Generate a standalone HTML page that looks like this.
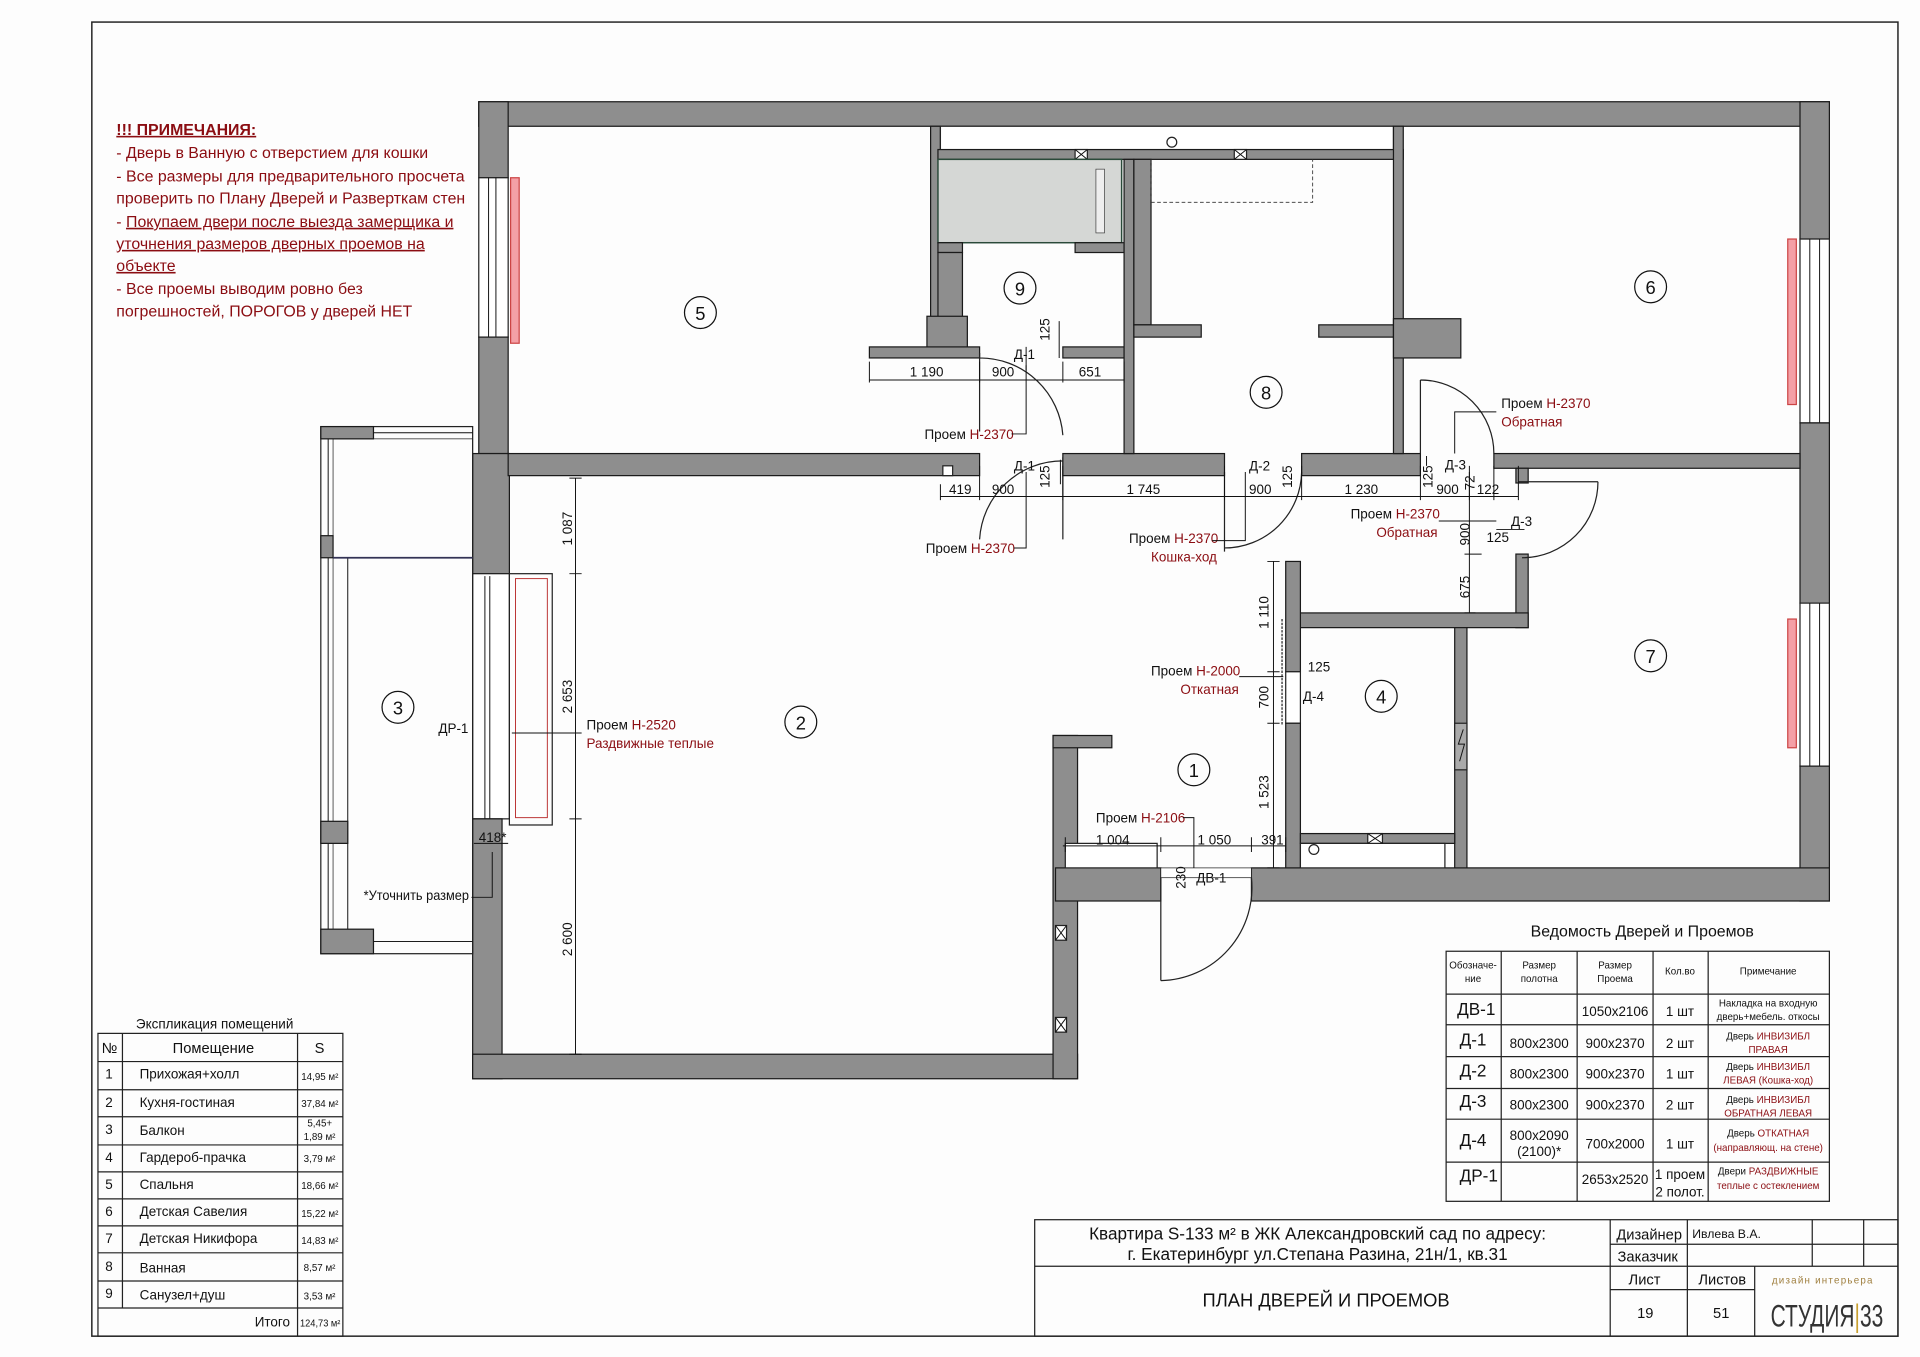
<!DOCTYPE html>
<html><head><meta charset="utf-8"><style>
html,body{margin:0;padding:0;background:#fdfdfd;}
svg{display:block}
text{font-family:"Liberation Sans",sans-serif;fill:#111}
.r{fill:#8b0d12}
.w{fill:#8e8e8e;stroke:#1a1a1a;stroke-width:1}
.ln{stroke:#111;stroke-width:0.8;fill:none}
.t{stroke:#222;stroke-width:1;fill:none}
</style></head><body>
<svg width="1920" height="1357" viewBox="0 0 1568 1107" preserveAspectRatio="none" xmlns="http://www.w3.org/2000/svg">
<rect x="0" y="0" width="1568" height="1107" fill="#fdfdfd"/>
<rect x="75" y="18" width="1475" height="1072" fill="none" stroke="#222" stroke-width="1.2"/>

<g font-size="13" class="r">
<text x="95" y="110" class="r" font-weight="bold" text-decoration="underline">!!! ПРИМЕЧАНИЯ:</text>
<text x="95" y="129" class="r">- Дверь в Ванную с отверстием для кошки</text>
<text x="95" y="148" class="r">- Все размеры для предварительного просчета</text>
<text x="95" y="166" class="r">проверить по Плану Дверей и Разверткам стен</text>
<text x="95" y="185" class="r">- <tspan text-decoration="underline">Покупаем двери после выезда замерщика и</tspan></text>
<text x="95" y="203" class="r" text-decoration="underline">уточнения размеров дверных проемов на</text>
<text x="95" y="221" class="r" text-decoration="underline">объекте</text>
<text x="95" y="240" class="r">- Все проемы выводим ровно без</text>
<text x="95" y="258" class="r">погрешностей,   ПОРОГОВ у дверей НЕТ</text>
</g>

<rect class="w" x="391" y="83" width="1103" height="20"/>
<rect class="w" x="1470" y="83" width="24" height="112"/>
<rect x="1470" y="195" width="24" height="150" fill="#fff" stroke="#222"/>
<line class="ln" x1="1478" y1="195" x2="1478" y2="345"/><line class="ln" x1="1486" y1="195" x2="1486" y2="345"/>
<rect x="1460" y="195" width="7" height="135" fill="#f4a0a6" stroke="#c44"/>
<rect class="w" x="1470" y="345" width="24" height="147"/>
<rect x="1470" y="492" width="24" height="133" fill="#fff" stroke="#222"/>
<line class="ln" x1="1478" y1="492" x2="1478" y2="625"/><line class="ln" x1="1486" y1="492" x2="1486" y2="625"/>
<rect x="1460" y="505" width="7" height="105" fill="#f4a0a6" stroke="#c44"/>
<rect class="w" x="1470" y="625" width="24" height="110"/>
<rect class="w" x="1022" y="708" width="472" height="27"/>

<rect class="w" x="391" y="83" width="24" height="62"/>
<rect x="391" y="145" width="24" height="130" fill="#fff" stroke="#222"/>
<line class="ln" x1="399" y1="145" x2="399" y2="275"/><line class="ln" x1="405" y1="145" x2="405" y2="275"/>
<rect x="417" y="145" width="7" height="135" fill="#f4a0a6" stroke="#c44"/>
<rect class="w" x="391" y="275" width="24" height="95"/>

<rect class="w" x="386" y="370" width="30" height="98"/>
<rect x="386" y="468" width="30" height="200" fill="#fff" stroke="#222"/>
<line class="ln" x1="396" y1="470" x2="396" y2="668"/><line class="ln" x1="400" y1="470" x2="400" y2="668"/>
<rect x="416" y="468" width="35" height="205" fill="none" stroke="#222"/>
<rect x="421" y="472" width="26" height="195" fill="none" stroke="#b33" stroke-width="0.8"/>
<rect class="w" x="386" y="668" width="24" height="212"/>
<rect class="w" x="386" y="860" width="494" height="20"/>
<rect class="w" x="860" y="600" width="20" height="280"/>
<rect class="w" x="860" y="600" width="48" height="10"/>
<rect class="w" x="862" y="708" width="86" height="27"/>
<rect x="870" y="688" width="75" height="20" fill="#fff" stroke="#222"/>
<rect x="948" y="708" width="74" height="8" fill="#fff" stroke="#222" stroke-width="0.6"/>

<rect class="w" x="415" y="370" width="385" height="18"/>
<rect class="w" x="868" y="370" width="132" height="18"/>
<rect class="w" x="1063" y="370" width="97" height="18"/>
<rect class="w" x="1220" y="370" width="250" height="12"/>
<rect x="770" y="380" width="8" height="8" fill="#fff" stroke="#222"/>

<rect class="w" x="760" y="103" width="8" height="160"/>
<rect x="768" y="103" width="370" height="20" fill="#fff" stroke="#222"/>
<rect class="w" x="766" y="122" width="380" height="8"/>
<circle cx="957" cy="116" r="4" fill="#fff" stroke="#222"/>
<rect x="878" y="122" width="10" height="8" fill="#fff" stroke="#222"/><path d="M878 122l10 8M888 122l-10 8" class="ln"/>
<rect x="1008" y="122" width="10" height="8" fill="#fff" stroke="#222"/><path d="M1008 122l10 8M1018 122l-10 8" class="ln"/>
<rect x="766" y="130" width="150" height="68" fill="#d5d7d5" stroke="#2a4a3a" stroke-width="1.2"/>
<rect x="895" y="138" width="7" height="52" fill="#eee" stroke="#444" stroke-width="0.6"/>
<rect class="w" x="766" y="198" width="20" height="8"/><rect class="w" x="878" y="198" width="40" height="8"/>
<rect class="w" x="766" y="206" width="20" height="55"/>
<rect class="w" x="757" y="258" width="33" height="32"/>
<rect class="w" x="710" y="283" width="90" height="9"/>
<rect class="w" x="868" y="283" width="50" height="9"/>
<rect class="w" x="918" y="130" width="8" height="240"/>
<rect class="w" x="926" y="130" width="14" height="135"/>
<path d="M940 130V165h132V130" fill="none" stroke="#333" stroke-width="0.7" stroke-dasharray="3 2"/>
<rect class="w" x="926" y="265" width="55" height="10"/>
<rect class="w" x="1077" y="265" width="62" height="10"/>
<rect class="w" x="1138" y="103" width="8" height="267"/>
<rect class="w" x="1138" y="260" width="55" height="32"/>

<rect class="w" x="1238" y="382" width="10" height="12"/>
<rect class="w" x="1238" y="452" width="10" height="60"/>
<rect class="w" x="1060" y="500" width="188" height="12"/>
<rect class="w" x="1188" y="512" width="10" height="196"/>
<rect x="1188" y="590" width="10" height="38" fill="#aaa" stroke="#222"/>
<path d="M1195 595l-4 12h5l-4 14" class="ln"/>
<rect class="w" x="1050" y="458" width="12" height="90"/>
<rect x="1050" y="548" width="12" height="42" fill="#fff" stroke="#222"/>
<line x1="1047" y1="505" x2="1047" y2="592" stroke="#222" stroke-dasharray="2 1"/>
<rect class="w" x="1050" y="590" width="12" height="118"/>
<rect class="w" x="1062" y="680" width="126" height="8"/>
<rect x="1062" y="688" width="118" height="20" fill="#fff" stroke="#222"/>
<circle cx="1073" cy="693" r="4" fill="#fff" stroke="#222"/>
<rect x="1117" y="680" width="12" height="8" fill="#fff" stroke="#222"/><path d="M1117 680l12 8M1129 680l-12 8" class="ln"/>
<rect x="862" y="755" width="9" height="12" fill="#fff" stroke="#222"/><path d="M862 755l9 12M871 755l-9 12" class="ln"/>
<rect x="862" y="830" width="9" height="12" fill="#fff" stroke="#222"/><path d="M862 830l9 12M871 830l-9 12" class="ln"/>

<rect x="262" y="348" width="124" height="430" fill="none" stroke="#222"/>
<rect x="272" y="358" width="114" height="410" fill="none" stroke="#222" stroke-width="0.6"/>
<line class="ln" x1="268" y1="358" x2="268" y2="768"/>
<line class="ln" x1="284" y1="455" x2="284" y2="758"/>
<rect class="w" x="262" y="348" width="43" height="10"/>
<line class="ln" x1="305" y1="353" x2="386" y2="353"/>
<rect class="w" x="262" y="437" width="10" height="18"/>
<line x1="272" y1="455" x2="386" y2="455" stroke="#335" stroke-width="1.5"/>
<rect class="w" x="262" y="670" width="22" height="18"/>
<rect class="w" x="262" y="758" width="43" height="20"/>
<line class="ln" x1="305" y1="768" x2="386" y2="768"/>

<g class="t">
<path d="M800 288V352M800 292A68 68 0 0 1 868 355"/>
<path d="M868 373V440M868 376A68 68 0 0 0 800 440"/>
<path d="M1000 385V450M1000 447A63 63 0 0 0 1063 385"/>
<path d="M1160 310V370M1160 310A60 60 0 0 1 1220 370"/>
<path d="M1240 393H1305M1305 393A62 62 0 0 1 1243 455"/>
<path d="M948 716V800M948 800A76 76 0 0 0 1022 716"/>
</g>

<g font-size="15" text-anchor="middle">
<circle cx="572" cy="255" r="13" fill="none" stroke="#111"/><text x="572" y="261">5</text>
<circle cx="833" cy="235" r="13" fill="none" stroke="#111"/><text x="833" y="241">9</text>
<circle cx="1034" cy="320" r="13" fill="none" stroke="#111"/><text x="1034" y="326">8</text>
<circle cx="1348" cy="234" r="13" fill="none" stroke="#111"/><text x="1348" y="240">6</text>
<circle cx="654" cy="589" r="13" fill="none" stroke="#111"/><text x="654" y="595">2</text>
<circle cx="325" cy="577" r="13" fill="none" stroke="#111"/><text x="325" y="583">3</text>
<circle cx="1348" cy="535" r="13" fill="none" stroke="#111"/><text x="1348" y="541">7</text>
<circle cx="1128" cy="568" r="13" fill="none" stroke="#111"/><text x="1128" y="574">4</text>
<circle cx="975" cy="628" r="13" fill="none" stroke="#111"/><text x="975" y="634">1</text>
</g>

<g class="ln">
<path d="M710 310H918M800 295V312M868 295V312M918 295V312M710 295V312"/>
<path d="M768 405H1240M768 395V408M800 380V408M868 380V408M1000 380V408M1063 380V408M1160 380V408M1200 380V408M1220 380V408M1240 380V408"/>
<path d="M1200 385V500M1196 452H1210M1196 500H1205"/>
<path d="M470 390V860M465 390H475M465 468H475M465 668H475M465 860H475"/>
<path d="M1040 458V708M1035 458H1045M1035 548H1045M1035 590H1045M1035 708H1045"/>
<path d="M868 690H1050M870 683V695M948 683V695M1022 683V695M1050 683V695"/>
<path d="M838 302V283M865 262V292M866 375V395"/>
<path d="M1165 380V372M1222 432H1245"/>
<path d="M387 688H415"/>
</g>
<g font-size="11">
<text x="743" y="307">1 190</text><text x="810" y="307">900</text><text x="881" y="307">651</text>
<text x="775" y="403">419</text><text x="810" y="403">900</text><text x="920" y="403">1 745</text>
<text x="1020" y="403">900</text><text x="1098" y="403">1 230</text><text x="1173" y="403">900</text><text x="1206" y="403">122</text>
<text x="895" y="689">1 004</text><text x="978" y="689">1 050</text><text x="1030" y="689">391</text>
<text x="391" y="687">418*</text>
<text x="1068" y="548">125</text><text x="1214" y="442">125</text>
<text x="297" y="734" textLength="86" lengthAdjust="spacingAndGlyphs">*Уточнить размер</text>
<text x="358" y="598">ДР-1</text>
<text x="828" y="293">Д-1</text><text x="828" y="384">Д-1</text><text x="1020" y="384">Д-2</text>
<text x="1180" y="383">Д-3</text><text x="1234" y="429">Д-3</text><text x="1064" y="572">Д-4</text><text x="977" y="720">ДВ-1</text>
<g transform="rotate(-90)">
<text x="-278" y="857">125</text><text x="-398" y="857">125</text><text x="-398" y="1055">125</text>
<text x="-398" y="1170">125</text><text x="-400" y="1204">72</text><text x="-445" y="1200">900</text><text x="-488" y="1200">675</text>
<text x="-445" y="467">1 087</text><text x="-582" y="467">2 653</text><text x="-780" y="467">2 600</text>
<text x="-513" y="1036">1 110</text><text x="-578" y="1036">700</text><text x="-660" y="1036">1 523</text>
<text x="-725" y="968">230</text>
</g>
</g>
<g font-size="11">
<text x="755" y="358">Проем <tspan class="r">Н-2370</tspan></text>
<text x="756" y="451">Проем <tspan class="r">Н-2370</tspan></text>
<text x="922" y="443">Проем <tspan class="r">Н-2370</tspan></text><text x="940" y="458" class="r">Кошка-ход</text>
<text x="1226" y="333">Проем <tspan class="r">Н-2370</tspan></text><text x="1226" y="348" class="r">Обратная</text>
<text x="1103" y="423">Проем <tspan class="r">Н-2370</tspan></text><text x="1124" y="438" class="r">Обратная</text>
<text x="940" y="551">Проем <tspan class="r">Н-2000</tspan></text><text x="964" y="566" class="r">Откатная</text>
<text x="895" y="671">Проем <tspan class="r">Н-2106</tspan></text>
<text x="479" y="595">Проем <tspan class="r">Н-2520</tspan></text><text x="479" y="610" class="r">Раздвижные теплые</text>
</g>
<g class="ln">
<path d="M826 354H838V298"/><path d="M828 447H838V385"/><path d="M990 441H1017V385"/>
<path d="M1222 336H1188V370"/><path d="M1175 425H1222"/><path d="M1012 552H1048"/>
<path d="M966 667H975V708"/><path d="M475 598H418"/><path d="M385 732H402V695"/>
</g>

<text x="111" y="839" font-size="11">Экспликация помещений</text>
<g class="t">
<rect x="80" y="843" width="200" height="247"/>
<path d="M100 843V1067M243 843V1090"/>
<path d="M80 866H280M80 889H280M80 911H280M80 934H280M80 956H280M80 978H280M80 1000H280M80 1022H280M80 1045H280M80 1067H280"/>
</g>
<g font-size="12">
<text x="83" y="859">№</text><text x="141" y="859">Помещение</text><text x="257" y="859">S</text>
<g font-size="11">
<text x="86" y="880">1</text><text x="114" y="880">Прихожая+холл</text>
<text x="86" y="903">2</text><text x="114" y="903">Кухня-гостиная</text>
<text x="86" y="925">3</text><text x="114" y="926">Балкон</text>
<text x="86" y="948">4</text><text x="114" y="948">Гардероб-прачка</text>
<text x="86" y="970">5</text><text x="114" y="970">Спальня</text>
<text x="86" y="992">6</text><text x="114" y="992">Детская Савелия</text>
<text x="86" y="1014">7</text><text x="114" y="1014">Детская Никифора</text>
<text x="86" y="1037">8</text><text x="114" y="1038">Ванная</text>
<text x="86" y="1059">9</text><text x="114" y="1060">Санузел+душ</text>
<text x="208" y="1082">Итого</text>
</g>
<g font-size="8">
<text x="246" y="881">14,95 м²</text><text x="246" y="903">37,84 м²</text><text x="251" y="919">5,45+</text><text x="248" y="930">1,89 м²</text>
<text x="248" y="948">3,79 м²</text><text x="246" y="970">18,66 м²</text><text x="246" y="993">15,22 м²</text><text x="246" y="1015">14,83 м²</text>
<text x="248" y="1037">8,57 м²</text><text x="248" y="1060">3,53 м²</text><text x="245" y="1082" textLength="33" lengthAdjust="spacingAndGlyphs">124,73 м²</text>
</g>
</g>

<text x="1250" y="764" font-size="13">Ведомость Дверей и Проемов</text>
<g class="t">
<rect x="1181" y="776" width="313" height="204"/>
<path d="M1226 776V980M1288 776V980M1350 776V980M1395 776V980"/>
<path d="M1181 811H1494M1181 836H1494M1181 862H1494M1181 888H1494M1181 913H1494M1181 948H1494"/>
</g>
<g font-size="8" text-anchor="middle">
<text x="1203" y="790">Обозначе-</text><text x="1203" y="801">ние</text>
<text x="1257" y="790">Размер</text><text x="1257" y="801">полотна</text>
<text x="1319" y="790">Размер</text><text x="1319" y="801">Проема</text>
<text x="1372" y="795">Кол.во</text><text x="1444" y="795">Примечание</text>
<text x="1444" y="821">Накладка на входную</text><text x="1444" y="832">дверь+мебель. откосы</text>
<text x="1444" y="848">Дверь <tspan class="r">ИНВИЗИБЛ</tspan></text><text x="1444" y="859" class="r">ПРАВАЯ</text>
<text x="1444" y="873">Дверь <tspan class="r">ИНВИЗИБЛ</tspan></text><text x="1444" y="884" class="r">ЛЕВАЯ (Кошка-ход)</text>
<text x="1444" y="900">Дверь <tspan class="r">ИНВИЗИБЛ</tspan></text><text x="1444" y="911" class="r">ОБРАТНАЯ ЛЕВАЯ</text>
<text x="1444" y="927">Дверь <tspan class="r">ОТКАТНАЯ</tspan></text><text x="1444" y="939" class="r">(направляющ. на стене)</text>
<text x="1444" y="958">Двери <tspan class="r">РАЗДВИЖНЫЕ</tspan></text><text x="1444" y="970" class="r">теплые с остеклением</text>
</g>
<g font-size="11" text-anchor="middle">
<text x="1257" y="880">800x2300</text><text x="1257" y="905">800x2300</text><text x="1257" y="855">800x2300</text>
<text x="1257" y="930">800x2090</text><text x="1257" y="943">(2100)*</text>
<text x="1319" y="829">1050x2106</text><text x="1319" y="855">900x2370</text><text x="1319" y="880">900x2370</text><text x="1319" y="905">900x2370</text><text x="1319" y="937">700x2000</text><text x="1319" y="966">2653x2520</text>
<text x="1372" y="829">1 шт</text><text x="1372" y="855">2 шт</text><text x="1372" y="880">1 шт</text><text x="1372" y="905">2 шт</text><text x="1372" y="937">1 шт</text>
<text x="1372" y="962">1 проем</text><text x="1372" y="976">2 полот.</text>
</g>
<g font-size="14">
<text x="1190" y="828">ДВ-1</text><text x="1192" y="853">Д-1</text><text x="1192" y="878">Д-2</text><text x="1192" y="903">Д-3</text><text x="1192" y="935">Д-4</text><text x="1192" y="964">ДР-1</text>
</g>

<g class="t">
<rect x="845" y="995" width="705" height="95"/>
<path d="M845 1033H1315M1315 995V1090M1378 995V1090M1433 1033V1090M1480 995V1033M1522 995V1033"/>
<path d="M1315 1015H1550M1315 1033H1550M1315 1052H1433"/>
</g>
<g font-size="14" text-anchor="middle">
<text x="1076" y="1011">Квартира S-133 м² в ЖК Александровский сад по адресу:</text>
<text x="1076" y="1028">г. Екатеринбург ул.Степана Разина, 21н/1, кв.31</text>
<text x="1083" y="1066" font-size="15">ПЛАН ДВЕРЕЙ И ПРОЕМОВ</text>
</g>
<g font-size="12">
<text x="1320" y="1011">Дизайнер</text><text x="1382" y="1010" font-size="10">Ивлева В.А.</text>
<text x="1321" y="1029">Заказчик</text>
<text x="1330" y="1048">Лист</text><text x="1387" y="1048">Листов</text>
<text x="1337" y="1075">19</text><text x="1399" y="1075">51</text>
</g>
<text x="1447" y="1047" font-size="8" style="fill:#a08040" letter-spacing="1">дизайн интерьера</text>
<text x="1446" y="1082" font-size="26" style="fill:#333" textLength="92" lengthAdjust="spacingAndGlyphs">СТУДИЯ<tspan style="fill:#c9a030">|</tspan>33</text>
</svg>
</body></html>
